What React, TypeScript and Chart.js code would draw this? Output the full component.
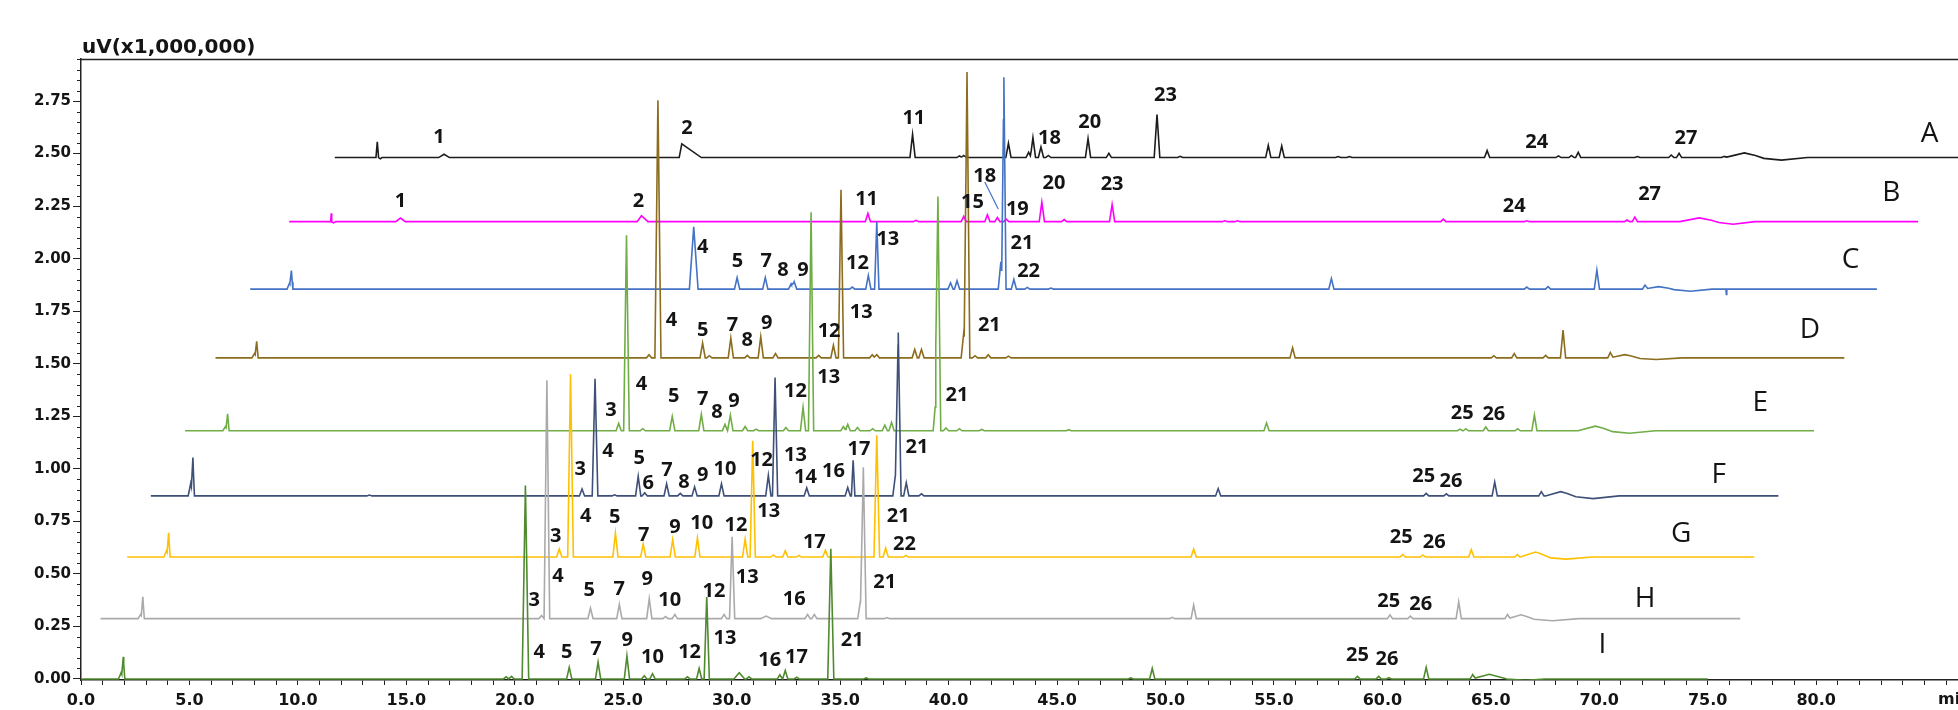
import { useEffect, useRef } from "react";
import { Chart, registerables } from "chart.js";

Chart.register(...registerables);

// Peak: [retention time on the plotted axis (min), height above the trace baseline (x1,000,000 uV), left half-width, right half-width]
type Peak = [number, number, number?, number?];
// Tag: [text, time (min), signal (x1,000,000 uV)]
type Tag = [string, number, number];

const sampleNames = ["A", "B", "C", "D", "E", "F", "G", "H", "I"];
const baselines = [2.481, 2.176, 1.855, 1.528, 1.181, 0.871, 0.58, 0.287, 0.0];
const runStart = [11.7, 9.6, 7.8, 6.2, 4.8, 3.22, 2.13, 0.9, 0.0];
const runEnd = [86.6, 84.7, 82.8, 81.3, 79.9, 78.26, 77.15, 76.5, 75.0];

const peaksA: Peak[] = [
  [13.66, 0.075, 0.06], [13.8, -0.006, 0.08], [16.74, 0.016, 0.25], [27.7, 0.065, 0.12, 0.9],
  [38.34, 0.11], [40.5, 0.008], [40.7, 0.01], [42.76, 0.068], [43.69, 0.025], [43.89, 0.095],
  [44.26, 0.05], [44.6, 0.01], [46.43, 0.09], [47.39, 0.02], [49.61, 0.205, 0.13], [50.68, 0.006],
  [54.74, 0.058], [55.36, 0.055], [57.96, 0.005], [58.48, 0.005], [64.83, 0.033], [68.12, 0.008],
  [68.72, 0.01], [69.03, 0.025], [71.76, 0.005], [73.32, 0.012], [73.68, 0.02], [75.76, 0.006],
  [76.69, 0.022, 0.9], [78.4, -0.012, 1.2],
];
const peaksB: Peak[] = [
  [11.54, 0.04, 0.03], [11.65, -0.006, 0.1], [14.73, 0.017, 0.22], [25.84, 0.028, 0.2, 0.3],
  [36.28, 0.039], [38.5, 0.006], [40.7, 0.025], [41.79, 0.033], [42.25, 0.02], [42.66, 0.012],
  [44.3, 0.092], [45.33, 0.01], [47.54, 0.081], [52.74, 0.004], [53.32, 0.004], [62.81, 0.012],
  [66.66, 0.004], [71.28, 0.008], [71.64, 0.022], [74.61, 0.018, 0.9], [76.17, -0.012, 1.0],
];
const peaksC: Peak[] = [
  [9.62, 0.03], [9.7, 0.078, 0.07], [28.25, 0.296, 0.2], [30.25, 0.055], [31.55, 0.055],
  [32.74, 0.025], [32.88, 0.035], [35.56, 0.01], [36.3, 0.065], [36.69, 0.32, 0.1], [40.09, 0.03],
  [40.39, 0.04], [42.41, 0.13], [42.55, 1.008, 0.1], [43.01, 0.046], [43.63, 0.008], [44.72, 0.005],
  [57.65, 0.05], [66.66, 0.01], [67.64, 0.012], [69.89, 0.09], [72.11, 0.018], [72.74, 0.012, 0.7],
  [74.2, -0.01, 1.0], [75.86, -0.025, 0.02],
];
const peaksD: Peak[] = [
  [8.0, 0.02], [8.1, 0.075, 0.07], [26.19, 0.015], [26.6, 1.226, 0.14], [28.66, 0.07], [28.97, 0.01],
  [29.96, 0.094], [30.72, 0.012], [31.34, 0.1], [32.02, 0.02], [34.01, 0.012], [34.69, 0.06],
  [35.04, 0.8, 0.12], [36.48, 0.015], [36.69, 0.015], [38.44, 0.04], [38.75, 0.04], [40.7, 0.12],
  [40.85, 1.36, 0.13], [41.22, 0.01], [41.83, 0.015], [42.76, 0.008], [55.86, 0.048], [65.14, 0.01],
  [66.08, 0.02], [67.53, 0.012], [68.33, 0.132], [70.51, 0.025], [71.18, 0.015, 0.7], [72.63, -0.008, 1.2],
];
const peaksE: Peak[] = [
  [6.66, 0.02], [6.76, 0.077, 0.07], [24.79, 0.035], [25.15, 0.93, 0.13], [25.9, 0.01], [27.26, 0.068],
  [28.6, 0.078], [29.69, 0.03], [29.94, 0.074], [30.62, 0.02], [31.13, 0.008], [32.5, 0.015],
  [33.29, 0.112], [33.66, 1.04, 0.12], [35.15, 0.02], [35.35, 0.03], [35.8, 0.015], [36.5, 0.01],
  [37.06, 0.027], [37.37, 0.04], [39.41, 0.15], [39.51, 1.09, 0.13], [39.88, 0.013], [40.5, 0.01],
  [41.53, 0.006], [45.54, 0.005], [54.66, 0.037], [63.58, 0.008], [63.85, 0.01], [64.77, 0.018],
  [66.24, 0.01], [67.01, 0.075], [69.82, 0.022, 0.8], [71.39, -0.012, 1.2],
];
const peaksF: Peak[] = [
  [5.06, 0.06], [5.16, 0.173, 0.07], [13.3, 0.004], [23.1, 0.033], [23.7, 0.557, 0.13], [24.6, 0.005],
  [25.69, 0.093], [25.99, 0.015], [27.0, 0.058], [27.63, 0.012], [28.29, 0.043], [29.53, 0.058],
  [31.69, 0.098], [32.0, 0.563, 0.12], [33.46, 0.038], [35.35, 0.04], [35.6, 0.17, 0.08], [37.55, 0.1],
  [37.68, 0.778, 0.13], [38.05, 0.063], [38.75, 0.01], [52.43, 0.035], [62.02, 0.012], [62.95, 0.01],
  [65.18, 0.066], [67.33, 0.02], [68.22, 0.02, 0.7], [69.72, -0.013, 1.2],
];
const peaksG: Peak[] = [
  [3.94, 0.03], [4.04, 0.11, 0.07], [22.05, 0.038], [22.57, 0.87, 0.13], [24.64, 0.114], [25.92, 0.062],
  [27.28, 0.083], [28.42, 0.091], [30.62, 0.086], [30.97, 0.553, 0.12], [31.92, 0.01], [32.47, 0.03],
  [33.1, 0.008], [34.32, 0.032], [36.69, 0.58, 0.13], [37.1, 0.043], [38.03, 0.008], [51.3, 0.038],
  [60.94, 0.012], [61.87, 0.01], [64.1, 0.035], [66.22, 0.012], [67.06, 0.024, 0.7], [68.47, -0.01, 1.2],
];
const peaksH: Peak[] = [
  [2.75, 0.02], [2.85, 0.1, 0.07], [21.23, 0.015], [21.48, 1.134, 0.13], [23.49, 0.05], [24.82, 0.068],
  [26.2, 0.095], [26.95, 0.01], [27.38, 0.02], [29.65, 0.02], [30.02, 0.39, 0.12], [31.59, 0.012, 0.25],
  [33.5, 0.02], [33.81, 0.02], [35.93, 0.08], [36.07, 0.72, 0.13], [37.16, 0.005], [50.31, 0.006],
  [51.3, 0.065], [60.35, 0.018], [61.29, 0.012], [63.52, 0.08], [65.77, 0.02], [66.39, 0.018, 0.6],
  [67.85, -0.01, 1.2],
];
const peaksI: Peak[] = [
  [1.85, 0.03], [1.95, 0.1, 0.07], [19.6, 0.01], [19.85, 0.012], [20.49, 0.92, 0.15], [22.51, 0.055],
  [23.84, 0.08], [25.17, 0.11], [25.97, 0.015], [26.35, 0.025], [27.96, 0.01], [28.5, 0.05],
  [28.85, 0.39, 0.12], [30.35, 0.03, 0.25], [30.8, 0.01], [32.22, 0.02], [32.47, 0.04], [33.0, 0.008],
  [34.57, 0.62, 0.14], [36.2, 0.005], [48.4, 0.005], [49.39, 0.05], [58.85, 0.012], [59.83, 0.012],
  [60.3, 0.006], [62.02, 0.055], [64.16, 0.02], [64.93, 0.022, 0.8], [66.6, -0.007, 0.9],
];

const tagsA: Tag[] = [["1", 16.5, 2.579], ["2", 27.94, 2.62], ["11", 38.4, 2.669], ["18", 44.65, 2.571], ["20", 46.51, 2.65], ["23", 50.0, 2.777], ["24", 67.12, 2.555], ["27", 74.0, 2.571]];
const tagsB: Tag[] = [["1", 14.73, 2.274], ["2", 25.7, 2.274], ["11", 36.22, 2.283], ["15", 41.1, 2.27], ["18", 41.67, 2.392], ["19", 43.17, 2.236], ["20", 44.86, 2.358], ["23", 47.54, 2.353], ["24", 66.08, 2.25], ["27", 72.32, 2.307]];
const tagsC: Tag[] = [["4", 28.66, 2.054], ["5", 30.27, 1.986], ["7", 31.59, 1.989], ["8", 32.37, 1.946], ["9", 33.29, 1.946], ["12", 35.8, 1.978], ["13", 37.2, 2.093], ["21", 43.38, 2.073], ["22", 43.69, 1.938]];
const tagsD: Tag[] = [["4", 27.22, 1.709], ["5", 28.66, 1.657], ["7", 30.04, 1.685], ["8", 30.72, 1.61], ["9", 31.61, 1.693], ["12", 34.49, 1.653], ["13", 35.97, 1.745], ["21", 41.88, 1.685]];
const tagsE: Tag[] = [["3", 24.44, 1.28], ["4", 25.84, 1.4], ["5", 27.33, 1.345], ["7", 28.66, 1.33], ["8", 29.32, 1.27], ["9", 30.1, 1.32], ["12", 32.94, 1.37], ["13", 34.47, 1.435], ["21", 40.39, 1.35], ["25", 63.68, 1.266], ["26", 65.14, 1.26]];
const tagsF: Tag[] = [["3", 23.02, 0.997], ["4", 24.3, 1.084], ["5", 25.74, 1.05], ["6", 26.15, 0.93], ["7", 27.02, 0.994], ["8", 27.8, 0.934], ["9", 28.66, 0.97], ["10", 29.69, 0.997], ["12", 31.38, 1.04], ["13", 32.94, 1.065], ["14", 33.4, 0.96], ["16", 34.69, 0.986], ["17", 35.87, 1.095], ["21", 38.54, 1.104], ["25", 61.91, 0.965], ["26", 63.16, 0.94]];
const tagsG: Tag[] = [["3", 21.89, 0.68], ["4", 23.27, 0.772], ["5", 24.61, 0.767], ["7", 25.94, 0.685], ["9", 27.38, 0.72], ["10", 28.62, 0.739], ["12", 30.2, 0.733], ["13", 31.71, 0.8], ["17", 33.81, 0.649], ["21", 37.68, 0.772], ["22", 37.97, 0.64], ["25", 60.87, 0.675], ["26", 62.39, 0.649]];
const tagsH: Tag[] = [["3", 20.9, 0.375], ["4", 21.99, 0.49], ["5", 23.43, 0.42], ["7", 24.81, 0.427], ["9", 26.11, 0.475], ["10", 27.14, 0.375], ["12", 29.18, 0.416], ["13", 30.72, 0.483], ["16", 32.88, 0.38], ["21", 37.06, 0.462], ["25", 60.29, 0.369], ["26", 61.77, 0.356]];
const tagsI: Tag[] = [["4", 21.13, 0.127], ["5", 22.4, 0.127], ["7", 23.74, 0.142], ["9", 25.18, 0.185], ["10", 26.35, 0.103], ["12", 28.06, 0.125], ["13", 29.69, 0.195], ["16", 31.75, 0.087], ["17", 32.99, 0.103], ["21", 35.56, 0.182], ["25", 58.85, 0.114], ["26", 60.21, 0.095]];

// Sample letters at the right end of each trace
const sampleTags: Tag[] = [["A", 85.23, 2.595], ["B", 83.46, 2.31], ["C", 81.59, 1.993], ["D", 79.71, 1.66], ["E", 77.42, 1.313], ["F", 75.51, 0.97], ["G", 73.78, 0.688], ["H", 72.11, 0.38], ["I", 70.14, 0.16]];

// Leader from the "18" tag of sample B down to its peak
const leaderB18: [number, number][] = [[41.67, 2.365], [42.29, 2.236]];

const xLabelValues = [0, 5, 10, 15, 20, 25, 30, 35, 40, 45, 50, 55, 60, 65, 70, 75, 80];
const yLabelValues = [0, 0.25, 0.5, 0.75, 1.0, 1.25, 1.5, 1.75, 2.0, 2.25, 2.5, 2.75];

const allPeaks = [peaksA, peaksB, peaksC, peaksD, peaksE, peaksF, peaksG, peaksH, peaksI];
const allTags = [tagsA, tagsB, tagsC, tagsD, tagsE, tagsF, tagsG, tagsH, tagsI];

const traceColors = ["#1c1c1c", "#ff00ff", "#4472c4", "#8c6d1e", "#70ad47", "#3e5078", "#ffc000", "#aaaaaa", "#4f8a2e"];
const DEFAULT_HALF_WIDTH = 0.12;
const AXIS_COLOR = "#222222";
const TEXT_COLOR = "#141414";

// Piecewise-linear trace: baseline plus triangular peaks, evaluated at every corner point
function traceLine(base: number, start: number, end: number, peaks: Peak[]) {
  const xs = new Set<number>([start, end]);
  peaks.forEach(([t, , wl = DEFAULT_HALF_WIDTH, wr = wl]) => {
    xs.add(t - wl);
    xs.add(t);
    xs.add(t + wr);
  });
  const sorted = [...xs].filter((x) => x >= start && x <= end).sort((a, b) => a - b);
  return sorted.map((x) => {
    let y = base;
    peaks.forEach(([t, h, wl = DEFAULT_HALF_WIDTH, wr = wl]) => {
      const w = x < t ? wl : wr;
      const d = Math.abs(x - t) / w;
      if (d < 1) y += h * (1 - d);
    });
    return { x, y };
  });
}

const decorations = {
  id: "chromDecorations",
  afterDraw(chart: Chart) {
    const { ctx, chartArea } = chart;
    const xs = chart.scales.x;
    const ys = chart.scales.y;
    ctx.save();

    // top frame line
    ctx.strokeStyle = AXIS_COLOR;
    ctx.lineWidth = 1.5;
    ctx.beginPath();
    ctx.moveTo(chartArea.left, chartArea.top + 0.5);
    ctx.lineTo(chartArea.right, chartArea.top + 0.5);
    ctx.stroke();

    // minor y ticks every 0.05
    ctx.lineWidth = 1;
    for (let k = 1; k * 0.05 <= ys.max; k++) {
      if (k % 5 === 0) continue;
      const py = Math.round(ys.getPixelForValue(k * 0.05)) + 0.5;
      ctx.beginPath();
      ctx.moveTo(chartArea.left - 4, py);
      ctx.lineTo(chartArea.left, py);
      ctx.stroke();
    }

    // unit titles
    ctx.fillStyle = TEXT_COLOR;
    ctx.font = "bold 20px 'DejaVu Sans'";
    ctx.textAlign = "left";
    ctx.textBaseline = "alphabetic";
    ctx.fillText("uV(x1,000,000)", chartArea.left + 1, chartArea.top - 6);
    ctx.font = "bold 16px 'DejaVu Sans'";
    ctx.textBaseline = "top";
    ctx.fillText("min", xs.right - 20, chartArea.bottom + 12);

    // leader line
    ctx.strokeStyle = traceColors[2];
    ctx.lineWidth = 1.2;
    ctx.beginPath();
    ctx.moveTo(xs.getPixelForValue(leaderB18[0][0]), ys.getPixelForValue(leaderB18[0][1]));
    ctx.lineTo(xs.getPixelForValue(leaderB18[1][0]), ys.getPixelForValue(leaderB18[1][1]));
    ctx.stroke();

    // peak numbers
    ctx.fillStyle = TEXT_COLOR;
    ctx.textAlign = "center";
    ctx.textBaseline = "middle";
    ctx.font = "bold 20px 'Open Sans'";
    allTags.forEach((tags) =>
      tags.forEach(([text, x, y]) => ctx.fillText(text, xs.getPixelForValue(x), ys.getPixelForValue(y)))
    );

    // sample letters
    ctx.font = "28px 'Open Sans'";
    sampleTags.forEach(([text, x, y]) => ctx.fillText(text, xs.getPixelForValue(x), ys.getPixelForValue(y)));
    ctx.restore();
  },
};

export default function App() {
  const canvasRef = useRef<HTMLCanvasElement | null>(null);

  useEffect(() => {
    const canvas = canvasRef.current;
    if (!canvas) return;
    const order = [8, 7, 6, 5, 4, 3, 2, 1, 0];
    const chart = new Chart(canvas, {
      type: "line",
      data: {
        datasets: order.map((i) => ({
          label: sampleNames[i],
          data: traceLine(baselines[i], runStart[i], runEnd[i], allPeaks[i]),
          borderColor: traceColors[i],
          borderWidth: 1.6,
          pointRadius: 0,
          tension: 0,
          fill: false,
        })),
      },
      options: {
        animation: false,
        responsive: false,
        parsing: false,
        normalized: true,
        events: [],
        layout: { padding: { top: 59, right: 0, bottom: 0, left: 0 } },
        plugins: { legend: { display: false }, tooltip: { enabled: false } },
        scales: {
          x: {
            type: "linear",
            min: 0,
            max: 86.54,
            afterFit: (s: any) => {
              s.height = 30;
            },
            ticks: {
              stepSize: 1,
              autoSkip: false,
              includeBounds: false,
              maxRotation: 0,
              padding: 6,
              color: TEXT_COLOR,
              font: { family: "'DejaVu Sans'", weight: "bold", size: 16 },
              callback: (v: any) => (xLabelValues.includes(Number(v)) ? Number(v).toFixed(1) : ""),
            },
            grid: { drawOnChartArea: false, tickLength: 5, tickColor: AXIS_COLOR, tickWidth: 1 },
            border: { display: true, color: AXIS_COLOR, width: 1.5 },
          },
          y: {
            type: "linear",
            min: -0.005,
            max: 2.95,
            afterFit: (s: any) => {
              s.width = 81;
            },
            ticks: {
              stepSize: 0.25,
              includeBounds: false,
              padding: 2,
              color: TEXT_COLOR,
              font: { family: "'DejaVu Sans'", weight: "bold", size: 15 },
              callback: (v: any) => {
                const n = Number(v);
                return yLabelValues.some((t) => Math.abs(t - n) < 1e-6) ? n.toFixed(2) : "";
              },
            },
            grid: { drawOnChartArea: false, tickLength: 8, tickColor: AXIS_COLOR, tickWidth: 1 },
            border: { display: true, color: AXIS_COLOR, width: 1.5 },
          },
        },
      },
      plugins: [decorations as any],
    });
    return () => chart.destroy();
  }, []);

  return (
    <div style={{ position: "absolute", left: 0, top: 0, width: 1958, height: 710, background: "#fff", overflow: "hidden" }}>
      <canvas ref={canvasRef} width={1958} height={710} style={{ display: "block", width: 1958, height: 710 }} />
    </div>
  );
}
